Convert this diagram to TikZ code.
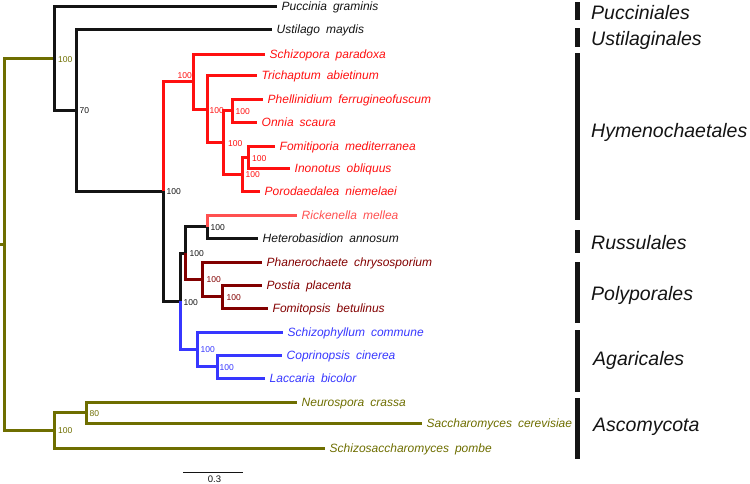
\documentclass[tikz,border=0pt]{standalone}
\usepackage{fontspec}
\setmainfont{Liberation Sans}
\definecolor{olv}{RGB}{110,110,0}
\definecolor{brd}{RGB}{255,16,16}
\definecolor{lrd}{RGB}{255,80,80}
\definecolor{drd}{RGB}{130,0,0}
\definecolor{blu}{RGB}{55,55,255}
\definecolor{blk}{RGB}{20,20,20}
\newcommand\spn[2]{#1\hspace{0.5em}#2}
\begin{document}
\begin{tikzpicture}[x=1pt,y=-1pt,
 br/.style={line width=3pt},
 leaf/.style={anchor=west, inner xsep=4.5pt, inner ysep=0pt, font=\fontsize{12}{14}\selectfont\itshape, text height=8.6pt, text depth=0pt},
 lab/.style={anchor=west, inner sep=0pt, font=\fontsize{8.5}{10}\selectfont, text height=6.1pt, text depth=0pt},
 clade/.style={anchor=west, inner sep=0pt, font=\fontsize{19.5}{22}\selectfont\itshape, text height=14pt, text depth=0pt, text=blk},
 cladebar/.style={fill=blk}]
\useasboundingbox (0,0) rectangle (750,483);
% internal nodes
\coordinate (base) at (0,244.35);
\coordinate (root) at (4,244.35);
\coordinate (basidio) at (54,58.45);
\coordinate (n70) at (76,110.4);
\coordinate (n163) at (163,191.3);
\coordinate (hym) at (193,81.5);
\coordinate (n207) at (207,109);
\coordinate (X) at (223,142.6);
\coordinate (phon) at (232,110.75);
\coordinate (Y) at (242,174.4);
\coordinate (Z) at (248,157.25);
\coordinate (n180) at (180,301.1);
\coordinate (B) at (185,253);
\coordinate (RH) at (207,226.75);
\coordinate (polyp) at (202,279.25);
\coordinate (D) at (222,296.5);
\coordinate (agar) at (197,349.25);
\coordinate (C) at (217,366.5);
\coordinate (asco) at (54,430.25);
\coordinate (neu) at (86,412.5);
% leaves
\node[leaf,text=blk] (l1) at (277,6.5) {\spn{Puccinia}{graminis}};
\node[leaf,text=blk] (l2) at (272,29.5) {\spn{Ustilago}{maydis}};
\node[leaf,text=brd] (l3) at (265,54) {\spn{Schizopora}{paradoxa}};
\node[leaf,text=brd] (l4) at (257,75.5) {\spn{Trichaptum}{abietinum}};
\node[leaf,text=brd] (l5) at (263,99) {\spn{Phellinidium}{ferrugineofuscum}};
\node[leaf,text=brd] (l6) at (257,122.5) {\spn{Onnia}{scaura}};
\node[leaf,text=brd] (l7) at (275,146) {\spn{Fomitiporia}{mediterranea}};
\node[leaf,text=brd] (l8) at (290,168.5) {\spn{Inonotus}{obliquus}};
\node[leaf,text=brd] (l9) at (260,191.5) {\spn{Porodaedalea}{niemelaei}};
\node[leaf,text=lrd] (l10) at (297,215) {\spn{Rickenella}{mellea}};
\node[leaf,text=blk] (l11) at (258,238.5) {\spn{Heterobasidion}{annosum}};
\node[leaf,text=drd] (l12) at (262,262) {\spn{Phanerochaete}{chrysosporium}};
\node[leaf,text=drd] (l13) at (262,285) {\spn{Postia}{placenta}};
\node[leaf,text=drd] (l14) at (268,308) {\spn{Fomitopsis}{betulinus}};
\node[leaf,text=blu] (l15) at (283,332) {\spn{Schizophyllum}{commune}};
\node[leaf,text=blu] (l16) at (282,355) {\spn{Coprinopsis}{cinerea}};
\node[leaf,text=blu] (l17) at (265,378) {\spn{Laccaria}{bicolor}};
\node[leaf,text=olv] (l18) at (297,402) {\spn{Neurospora}{crassa}};
\node[leaf,text=olv] (l19) at (422,423) {\spn{Saccharomyces}{cerevisiae}};
\node[leaf,text=olv] (l20) at (325,448) {\spn{Schizosaccharomyces}{pombe}};
% branches
\draw[br,olv] (base) -- (root);
\draw[br,olv] (root) |- (basidio);
\draw[br,olv] (root) |- (asco);
\draw[br,blk] (basidio) |- (l1.west);
\draw[br,blk] (basidio) |- (n70);
\draw[br,blk] (n70) |- (l2.west);
\draw[br,blk] (n70) |- (n163);
\draw[br,brd] (n163) |- (hym);
\draw[br,blk] (n163) |- (n180);
\draw[br,brd] (hym) |- (l3.west);
\draw[br,brd] (hym) |- (n207);
\draw[br,brd] (n207) |- (l4.west);
\draw[br,brd] (n207) |- (X);
\draw[br,brd] (X) |- (phon);
\draw[br,brd] (X) |- (Y);
\draw[br,brd] (phon) |- (l5.west);
\draw[br,brd] (phon) |- (l6.west);
\draw[br,brd] (Y) |- (Z);
\draw[br,brd] (Y) |- (l9.west);
\draw[br,brd] (Z) |- (l7.west);
\draw[br,brd] (Z) |- (l8.west);
\draw[br,blk] (n180) |- (B);
\draw[br,blu] (n180) |- (agar);
\draw[br,blk] (B) |- (RH);
\draw[br,drd] (B) |- (polyp);
\draw[br,lrd] (RH) |- (l10.west);
\draw[br,blk] (RH) |- (l11.west);
\draw[br,drd] (polyp) |- (l12.west);
\draw[br,drd] (polyp) |- (D);
\draw[br,drd] (D) |- (l13.west);
\draw[br,drd] (D) |- (l14.west);
\draw[br,blu] (agar) |- (l15.west);
\draw[br,blu] (agar) |- (C);
\draw[br,blu] (C) |- (l16.west);
\draw[br,blu] (C) |- (l17.west);
\draw[br,olv] (asco) |- (neu);
\draw[br,olv] (asco) |- (l20.west);
\draw[br,olv] (neu) |- (l18.west);
\draw[br,olv] (neu) |- (l19.west);
% support labels
\node[lab,text=olv] (s1) at ([xshift=4pt,yshift=-0.5pt]basidio) {100};
\node[lab,text=blk] (s2) at ([xshift=3.5pt]n70) {70};
\node[lab,text=blk] (s3) at ([xshift=3.5pt,yshift=-0.5pt]n163) {100};
\node[lab,text=brd,anchor=east] (s4) at ([xshift=-1pt,yshift=6pt]hym) {100};
\node[lab,text=brd] (s5) at ([xshift=2.5pt,yshift=-1pt]n207) {100};
\node[lab,text=brd] (s6) at ([xshift=3.5pt,yshift=-1pt]phon) {100};
\node[lab,text=brd] (s7) at ([xshift=5pt,yshift=-0.5pt]X) {100};
\node[lab,text=brd] (s8) at ([xshift=3.5pt,yshift=-0.5pt]Y) {100};
\node[lab,text=brd] (s9) at ([xshift=4pt,yshift=-1pt]Z) {100};
\node[lab,text=blk] (s10) at ([xshift=3.5pt,yshift=-1pt]n180) {100};
\node[lab,text=blk] (s11) at ([xshift=4.5pt]B) {100};
\node[lab,text=blk] (s12) at ([xshift=3.5pt,yshift=-1pt]RH) {100};
\node[lab,text=drd] (s13) at ([xshift=4.5pt]polyp) {100};
\node[lab,text=drd] (s14) at ([xshift=4.5pt,yshift=-0.5pt]D) {100};
\node[lab,text=blu] (s15) at ([xshift=3.5pt]agar) {100};
\node[lab,text=blu] (s16) at ([xshift=2.5pt,yshift=-0.5pt]C) {100};
\node[lab,text=olv] (s17) at ([xshift=4pt,yshift=-0.5pt]asco) {100};
\node[lab,text=olv] (s18) at ([xshift=3.5pt,yshift=-0.5pt]neu) {80};
% scale bar
\coordinate (sb1) at (183,472);
\coordinate (sb2) at (243,472);
\draw[line width=1pt,blk] (sb1) -- (sb2);
\node[inner sep=0pt,font=\fontsize{9.5}{11}\selectfont,text height=6.8pt,text depth=0pt,text=blk] (sbl) at (214.5,479) {0.3};
% clade bars
\fill[cladebar] (575,1.5) rectangle (579.5,20);
\fill[cladebar] (575,28) rectangle (579.5,47);
\fill[cladebar] (575,53) rectangle (579.5,220);
\fill[cladebar] (575,230) rectangle (579.5,253);
\fill[cladebar] (575,262) rectangle (579.5,323);
\fill[cladebar] (575,330) rectangle (579.5,392);
\fill[cladebar] (575,398) rectangle (579.5,459);
\node[clade] (c1) at (591,12.5) {Pucciniales};
\node[clade] (c2) at (591,38) {Ustilaginales};
\node[clade] (c3) at (591,130) {Hymenochaetales};
\node[clade] (c4) at (591,242) {Russulales};
\node[clade] (c5) at (591,293.5) {Polyporales};
\node[clade] (c6) at (593,358.5) {Agaricales};
\node[clade] (c7) at (593,424) {Ascomycota};
\end{tikzpicture}
\end{document}
